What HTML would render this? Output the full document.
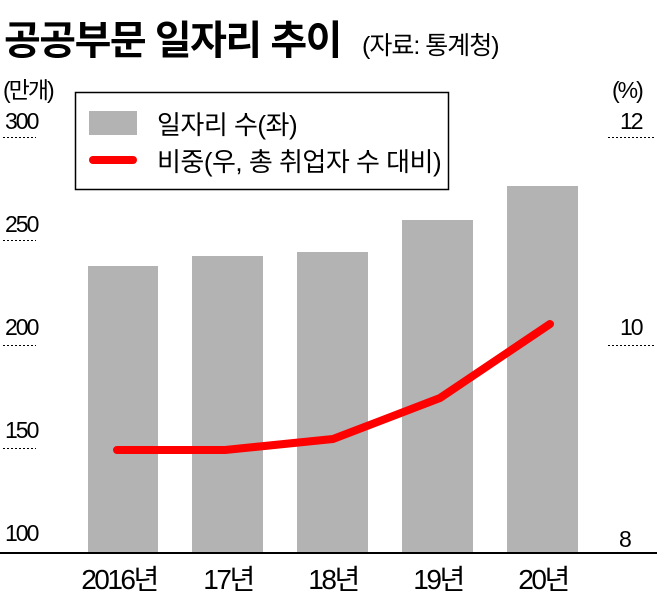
<!DOCTYPE html><html><head><meta charset="utf-8"><style>
body{margin:0;width:657px;height:593px;background:#fff;overflow:hidden;font-family:"Liberation Sans","Noto Sans CJK KR",sans-serif}
</style></head><body>
<svg width="657" height="593" xmlns="http://www.w3.org/2000/svg" font-family="Liberation Sans, Noto Sans CJK KR, sans-serif">
<text x="4" y="54" font-size="40" font-weight="bold" letter-spacing="-1.5" fill="#000">공공부문 일자리 추이</text>
<text x="362" y="54" font-size="25" letter-spacing="-1" fill="#000">(자료: 통계청)</text>
<text x="3" y="98" font-size="23" letter-spacing="-2">(만개)</text>
<text x="612" y="98" font-size="23" letter-spacing="-2">(%)</text>
<g font-size="23" letter-spacing="-2">
<text x="5" y="129">300</text><text x="5" y="232">250</text><text x="5" y="335">200</text><text x="5" y="438">150</text><text x="5" y="541">100</text>
<text x="620" y="129">12</text><text x="620" y="335">10</text><text x="619" y="547">8</text>
</g>
<g stroke="#000" stroke-width="1" stroke-dasharray="2,2">
<line x1="3" y1="137.5" x2="36" y2="137.5"/><line x1="3" y1="240.5" x2="36" y2="240.5"/><line x1="3" y1="345.5" x2="36" y2="345.5"/><line x1="3" y1="448.5" x2="36" y2="448.5"/>
<line x1="608" y1="137.5" x2="655" y2="137.5"/><line x1="608" y1="345.5" x2="655" y2="345.5"/>
</g>
<g fill="#b3b3b3">
<rect x="88" y="266" width="70" height="287"/><rect x="192" y="256" width="71" height="297"/><rect x="297" y="252" width="71" height="301"/><rect x="402" y="220" width="71" height="333"/><rect x="507" y="186" width="71" height="367"/>
</g>
<line x1="0" y1="553" x2="657" y2="553" stroke="#000" stroke-width="2"/>
<polyline points="117,450 225,450 333,439 440,398 550,324" fill="none" stroke="#f00" stroke-width="8" stroke-linecap="round" stroke-linejoin="round"/>
<rect x="75.5" y="92.5" width="373" height="97" fill="#fff" stroke="#000" stroke-width="1.5"/>
<rect x="89" y="111" width="48" height="24" fill="#b3b3b3"/>
<line x1="93" y1="160" x2="133" y2="160" stroke="#f00" stroke-width="8" stroke-linecap="round"/>
<text x="157" y="134" font-size="26" letter-spacing="-0.5">일자리 수(좌)</text>
<text x="157" y="171" font-size="26" letter-spacing="-0.5">비중(우, 총 취업자 수 대비)</text>
<g font-size="28" letter-spacing="-2.5" text-anchor="middle">
<text x="119" y="589">2016년</text><text x="228" y="589">17년</text><text x="333" y="589">18년</text><text x="438" y="589">19년</text><text x="543" y="589">20년</text>
</g>
</svg>
</body></html>
